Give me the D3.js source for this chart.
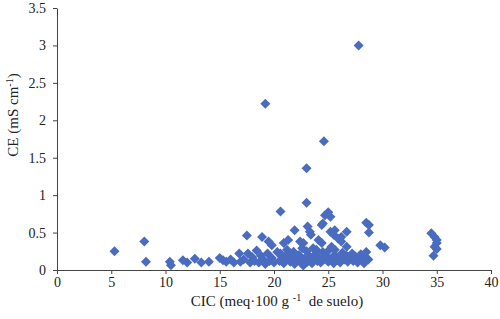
<!DOCTYPE html>
<html>
<head>
<meta charset="utf-8">
<script src="https://cdn.jsdelivr.net/npm/d3@7"></script>
<style>
  body { margin: 0; background: #fff; }
  svg text { font-family: "Liberation Serif", "Times New Roman", serif; fill: #222; }
</style>
</head>
<body>
<div id="chart"></div>
<script>
// CIC (meq/100 g) vs CE (mS/cm)
const cic = [
  5.3, 8.05, 8.2, 10.4, 10.5, 11.6, 12.0, 12.7, 13.3, 14.0,
  15.0, 15.3, 15.6, 16.0, 16.3, 16.8, 16.9, 17.2, 17.5, 17.6, 17.8, 18.0, 18.2, 18.4, 18.6,
  18.9, 18.8, 19.0, 19.2, 19.2, 19.4, 19.5, 19.6, 19.8, 19.8, 20.0, 20.3, 20.6,
  20.5, 20.7, 20.9, 21.1, 21.3, 21.5, 21.7, 21.9, 22.1, 22.3, 22.5, 22.7, 22.8, 23.0, 23.1,
  23.3, 23.5, 23.6, 23.8, 24.0, 24.1, 24.3, 24.5, 24.6, 24.8, 25.0, 25.1, 25.3, 25.5, 25.6,
  25.8, 26.0, 26.1, 26.3, 26.5, 26.7, 26.8, 27.0, 27.2, 27.3, 27.5, 27.7, 27.9, 28.0, 28.2,
  28.4, 28.5, 28.7, 28.3,
  20.9, 21.3, 21.9, 22.4, 22.7, 23.0, 23.0, 23.1, 23.3, 23.4, 24.1, 24.4, 24.4, 24.5, 24.6,
  24.7, 25.0, 25.2, 25.2, 25.5, 25.6, 25.9, 26.2, 26.2, 26.7, 26.7, 27.8, 28.5, 28.75, 28.75,
  21.2, 21.8, 22.6, 23.6, 23.9, 25.3, 25.6, 20.6, 29.8, 30.2,
  34.5, 34.8, 35.0, 35.0, 34.8, 35.0, 34.7
];
const ce = [
  0.25, 0.38, 0.11, 0.11, 0.065, 0.13, 0.10, 0.15, 0.10, 0.11,
  0.16, 0.13, 0.11, 0.14, 0.10, 0.22, 0.11, 0.14, 0.46, 0.22, 0.10, 0.17, 0.12, 0.26, 0.10,
  0.44, 0.19, 0.14, 2.22, 0.08, 0.22, 0.38, 0.12, 0.33, 0.16, 0.10, 0.24, 0.78,
  0.12, 0.18, 0.09, 0.15, 0.22, 0.11, 0.17, 0.08, 0.13, 0.20, 0.10, 0.06, 0.15, 0.25, 0.11,
  0.18, 0.09, 0.14, 0.21, 0.12, 0.17, 0.10, 0.24, 0.14, 0.19, 0.11, 0.27, 0.15, 0.09, 0.20,
  0.13, 0.17, 0.10, 0.23, 0.14, 0.19, 0.11, 0.16, 0.22, 0.12, 0.18, 0.10, 0.15, 0.21, 0.12,
  0.17, 0.24, 0.14, 0.09,
  0.36, 0.40, 0.53, 0.38, 0.36, 1.36, 0.90, 0.58, 0.51, 0.47, 0.40, 0.36, 0.60, 0.62, 1.72,
  0.73, 0.77, 0.71, 0.51, 0.47, 0.53, 0.42, 0.38, 0.44, 0.51, 0.31, 3.0, 0.63, 0.60, 0.50,
  0.27, 0.245, 0.29, 0.29, 0.27, 0.31, 0.27, 0.22, 0.33, 0.30,
  0.49, 0.44, 0.40, 0.36, 0.31, 0.28, 0.19
];
const xTicks = [0, 5, 10, 15, 20, 25, 30, 35, 40];
const yTicks = [0, 0.5, 1, 1.5, 2, 2.5, 3, 3.5];

const width = 500, height = 319;
const serif = '"Liberation Serif", "Times New Roman", serif';
const svg = d3.select("#chart").append("svg")
  .attr("width", width)
  .attr("height", height);

const x = d3.scaleLinear().domain([0, 40]).range([57, 491]);
const y = d3.scaleLinear().domain([0, 3.5]).range([270, 8]);

const xAxis = d3.axisBottom(x).tickValues(xTicks).tickFormat(d => String(d))
  .tickSize(4).tickSizeOuter(0).tickPadding(3);
const yAxis = d3.axisLeft(y).tickValues(yTicks).tickFormat(d => String(d))
  .tickSize(4).tickSizeOuter(0).tickPadding(7);

const gx = svg.append("g")
  .attr("transform", "translate(0," + y(0) + ")")
  .call(xAxis);
const gy = svg.append("g")
  .attr("transform", "translate(" + x(0) + ",0)")
  .call(yAxis);

[gx, gy].forEach(g => {
  g.attr("font-family", serif);
  g.selectAll("path, line").attr("stroke", "#444");
  g.selectAll("text")
    .style("font-family", serif)
    .style("font-size", "14px")
    .attr("fill", "#222");
});

// points
const points = cic.map((c, i) => ({ c: c, e: ce[i] }));
const diamond = d3.symbol().type(d3.symbolSquare).size(50);
svg.append("g").selectAll("path")
  .data(points)
  .enter().append("path")
  .attr("d", diamond)
  .attr("transform", d => "translate(" + x(d.c) + "," + y(d.e) + ") rotate(45)")
  .attr("fill", "#4a6cc0");

// axis titles
const xt = svg.append("text")
  .attr("x", 277)
  .attr("y", 306)
  .attr("text-anchor", "middle")
  .style("font-size", "15px")
  .attr("xml:space", "preserve");
xt.append("tspan").text("CIC (meq·100 g ");
xt.append("tspan").attr("dy", -5).style("font-size", "10px").text("-1");
xt.append("tspan").attr("dy", 5).text("  de suelo)");

const yt = svg.append("text")
  .attr("transform", "translate(18,115) rotate(-90)")
  .attr("text-anchor", "middle")
  .style("font-size", "15px");
yt.append("tspan").text("CE (mS cm");
yt.append("tspan").attr("dy", -5).style("font-size", "10px").text("-1");
yt.append("tspan").attr("dy", 5).text(")");
</script>
</body>
</html>
